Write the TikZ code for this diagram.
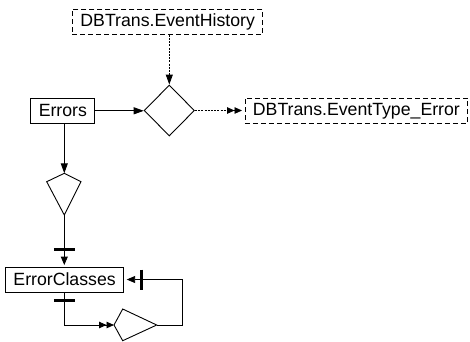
\documentclass[tikz,border=0pt]{standalone}
\usepackage{fontspec}
\setmainfont{Liberation Sans}
\usetikzlibrary{arrows.meta,shapes.geometric,calc}
\begin{document}
\begin{tikzpicture}[x=1pt,y=-1pt,
  box/.style={draw, line width=0.9pt, minimum height=25pt, inner xsep=8pt, inner ysep=0pt, font=\fontsize{17.7}{20}\selectfont, anchor=west},
  dbox/.style={box, dash pattern=on 5pt off 3pt},
  conn/.style={line width=0.9pt},
  dconn/.style={conn, dash pattern=on 2pt off 1.2pt},
  tip/.style={-{Triangle[length=10pt,width=7pt]}},
  stip/.style={-{Triangle[length=8.5pt,width=7pt]}},
  dtip/.style={-{Triangle[length=7.5pt,width=6.5pt]Triangle[length=7.5pt,width=6.5pt]}},
  barmark/.style={line width=2.8pt},
  shp/.style={draw, line width=0.9pt}
]
\useasboundingbox (0,0) rectangle (470,341);

% boxes
\node[dbox] (hist) at (72,21.8) {DBTrans.EventHistory};
\node[box] (errors) at (30.3,110.8) {Errors};
\node[dbox] (etype) at (244.5,110.8) {DBTrans.EventType\_Error};
\node[box] (eclasses) at (5,279.5) {ErrorClasses};

% decision diamond
\node[diamond, shp, minimum width=50.3pt, minimum height=51pt, inner sep=0pt] (dec) at (169.3,110.5) {};

% kite shapes
\coordinate (k1t) at (64.3,173.3);
\coordinate (k1r) at (81,181.7);
\coordinate (k1b) at (64.3,215);
\coordinate (k1l) at (46.7,181.7);
\draw[shp] (k1t) -- (k1r) -- (k1b) -- (k1l) -- cycle;

\coordinate (k2l) at (114,325);
\coordinate (k2t) at (122.7,309);
\coordinate (k2r) at (156.7,325);
\coordinate (k2b) at (122.7,340.7);
\draw[shp] (k2l) -- (k2t) -- (k2r) -- (k2b) -- cycle;

\coordinate (lx) at (182.7,325);

% connectors
\draw[dconn,tip] (hist.south -| dec.north) -- (dec.north);
\draw[conn,tip] (errors.east) -- (errors.east -| dec.west);
\draw[dconn,dtip,shorten >=2.5pt] (dec.east) -- (dec.east -| etype.west);
\draw[conn,tip] (errors.south -| k1t) -- (k1t);
\draw[conn,stip,shorten >=1.5pt] (k1b) -- (k1b |- eclasses.north);
\draw[conn,dtip] (eclasses.south -| k1b) |- (k2l);
\draw[conn,stip,shorten >=2.5pt] (k2r) -- (lx) |- (eclasses.east);

% bars
\draw[barmark] ($(k1b |- eclasses.north)+(-10.5,-17.4)$) -- ++(21,0);
\draw[barmark] ($(eclasses.south -| k1b)+(-10.5,7.7)$) -- ++(21,0);
\draw[barmark] ($(eclasses.east)+(17.7,-10)$) -- ++(0,20);
\end{tikzpicture}
\end{document}
